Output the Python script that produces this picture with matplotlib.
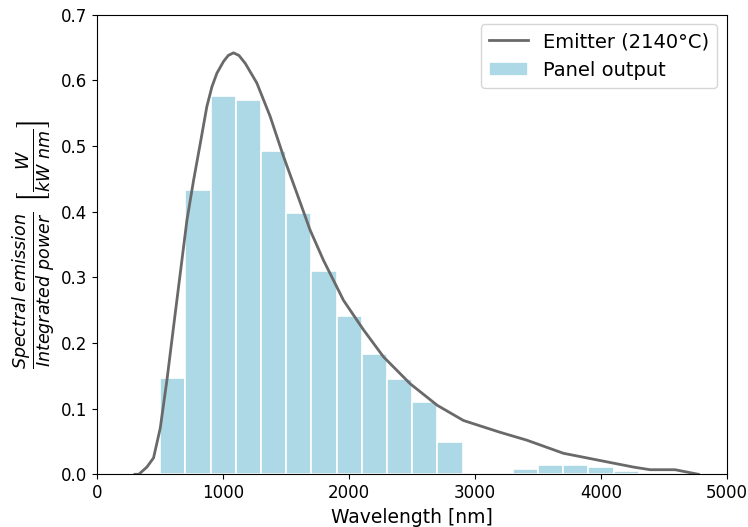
import matplotlib.pyplot as plt

# Emitter spectrum (normalised)
wl = [300, 330, 394, 447, 500, 553, 606, 659, 712, 765, 818, 870, 910, 950,
      1003, 1040, 1082, 1125, 1175, 1267, 1373, 1479, 1585, 1690, 1796, 1955,
      2114, 2272, 2484, 2700, 2907, 2987, 3198, 3410, 3701, 3992, 4257, 4389,
      4587, 4772]
emit = [0.0, 0.0, 0.011, 0.025, 0.070, 0.143, 0.225, 0.306, 0.387, 0.448,
        0.504, 0.560, 0.590, 0.611, 0.629, 0.638, 0.642, 0.638, 0.626, 0.596,
        0.545, 0.484, 0.428, 0.372, 0.326, 0.265, 0.220, 0.179, 0.138, 0.105,
        0.082, 0.077, 0.064, 0.052, 0.032, 0.021, 0.011, 0.007, 0.007, 0.0]

# Panel output per 200 nm bin
bin_left = [500, 700, 900, 1100, 1300, 1500, 1700, 1900, 2100, 2300, 2500,
            2700, 2900, 3100, 3300, 3500, 3700, 3900, 4100]
panel = [0.147, 0.433, 0.577, 0.570, 0.493, 0.398, 0.310, 0.241, 0.184,
         0.145, 0.110, 0.049, 0.0, 0.0015, 0.008, 0.014, 0.014, 0.011, 0.005]

fig, ax = plt.subplots(figsize=(7.48, 5.27), dpi=100)
fig.subplots_adjust(left=0.13, right=0.972, top=0.972, bottom=0.1)

ax.bar(bin_left, panel, width=200, align='edge', color='lightblue',
       edgecolor='white', linewidth=1.2, label='Panel output')
ax.plot(wl, emit, color='dimgray', linewidth=2, label='Emitter (2140°C)')

ax.set_xlim(0, 5000)
ax.set_ylim(0, 0.7)
ax.tick_params(labelsize=12)
ax.set_xlabel('Wavelength [nm]', fontsize=13.5)
ax.set_ylabel(r'$\frac{Spectral\ emission}{Integrated\ power}\ \left[\frac{W}{kW\ nm}\right]$',
              fontsize=18, labelpad=2)
ax.legend(fontsize=14, loc='upper right')

fig.savefig('out.png')
